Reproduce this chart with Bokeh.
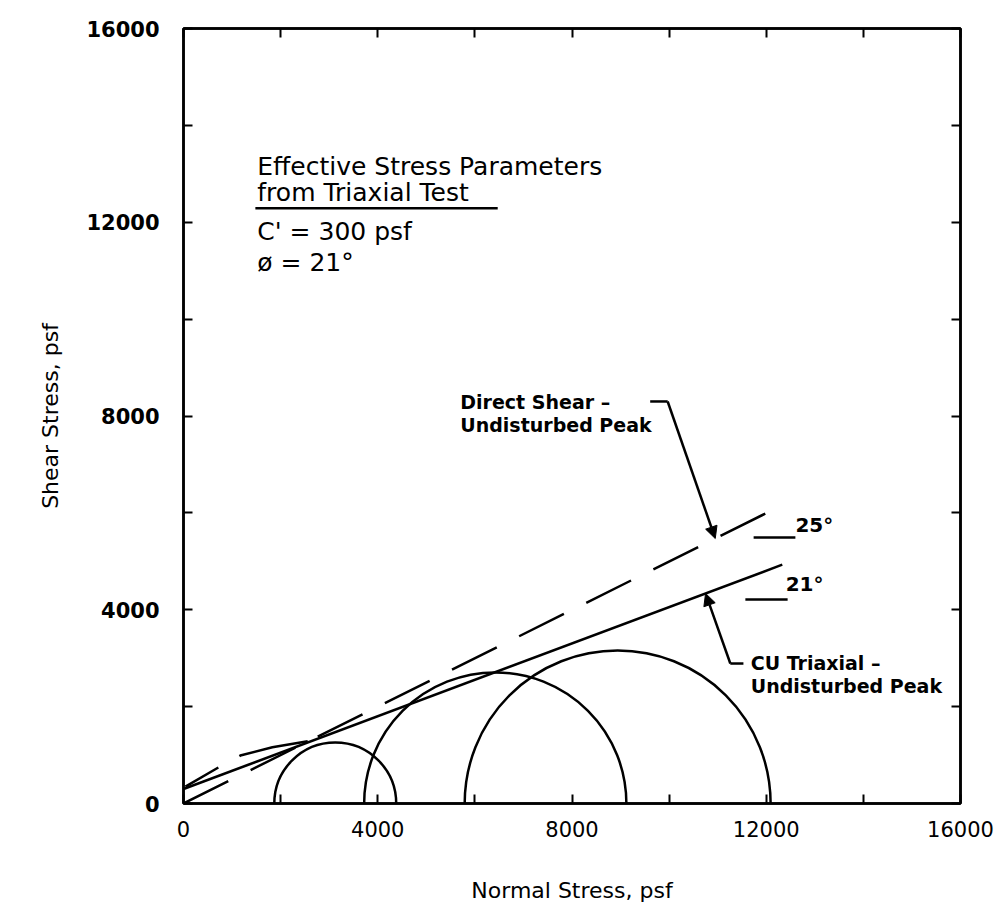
import numpy as np
from bokeh.plotting import figure
from bokeh.models import Range1d, FixedTicker, LinearAxis, Arrow, NormalHead
from bokeh.core.properties import value
from bokeh.embed import file_html
from bokeh.resources import INLINE

# Mohr circles: minor / major principal stresses at failure (psf)
sigma3 = [1870, 3720, 5790]
sigma1 = [4380, 9120, 12090]

# CU triaxial envelope (solid) and direct shear envelope (dashed)
cu_env_x = [0, 12330]
cu_env_y = [300, 4930]
ds_env_x = [0, 11990]
ds_env_y = [0, 5990]
# curved low-stress portion of the direct shear envelope
ds_curve_x = [40, 730, 1170, 1830, 2580]
ds_curve_y = [350, 750, 990, 1160, 1290]

major_ticks = [0, 4000, 8000, 12000, 16000]
minor_ticks = [2000, 6000, 10000, 14000]

FONT = "DejaVu Sans"
LW = 2.5

p = figure(frame_width=777, frame_height=775,
           x_range=Range1d(0, 16000), y_range=Range1d(0, 16000),
           min_border_left=183, min_border_right=41,
           min_border_top=28, min_border_bottom=120,
           output_backend="svg", toolbar_location=None,
           background_fill_color="white", border_fill_color="white")
p.xgrid.visible = False
p.ygrid.visible = False
p.outline_line_color = "black"
p.outline_line_width = LW


def style_axis(ax, show_labels=True):
    ax.ticker = FixedTicker(ticks=major_ticks, minor_ticks=minor_ticks)
    ax.axis_line_color = "black"
    ax.axis_line_width = LW
    ax.major_tick_in = 9
    ax.major_tick_out = 0
    ax.minor_tick_in = 9
    ax.minor_tick_out = 0
    ax.major_tick_line_width = 2
    ax.minor_tick_line_width = 2
    ax.major_tick_line_color = "black"
    ax.minor_tick_line_color = "black"
    ax.major_label_text_font = FONT
    ax.major_label_text_color = "black"
    ax.axis_label_text_font = FONT
    ax.axis_label_text_font_style = "normal"
    ax.axis_label_text_color = "black"
    if not show_labels:
        ax.major_label_text_alpha = 0
        ax.major_label_text_font_size = "1px"
        ax.major_label_standoff = 0


style_axis(p.xaxis[0])
style_axis(p.yaxis[0])
p.xaxis.axis_label = "Normal Stress, psf"
p.yaxis.axis_label = "Shear Stress, psf"
p.xaxis.major_label_text_font_size = "21px"
p.yaxis.major_label_text_font_size = "21px"
p.yaxis.major_label_text_font_style = "bold"
p.xaxis.major_label_standoff = 17
p.yaxis.major_label_standoff = 24
p.xaxis.axis_label_text_font_size = "22px"
p.yaxis.axis_label_text_font_size = "22px"
p.xaxis.axis_label_standoff = 38
p.yaxis.axis_label_standoff = 20

top_axis = LinearAxis()
right_axis = LinearAxis()
style_axis(top_axis, show_labels=False)
style_axis(right_axis, show_labels=False)
p.add_layout(top_axis, "above")
p.add_layout(right_axis, "right")

# Mohr circles (upper halves)
centers = [(a + b) / 2 for a, b in zip(sigma3, sigma1)]
radii = [(b - a) / 2 for a, b in zip(sigma3, sigma1)]
p.arc(x=centers, y=[0] * 3, radius=radii, start_angle=0, end_angle=np.pi,
      line_color="black", line_width=LW)

# failure envelopes
p.line(cu_env_x, cu_env_y, line_color="black", line_width=LW)
p.line(ds_env_x, ds_env_y, line_color="black", line_width=LW, line_dash="50 25")
p.line(ds_curve_x, ds_curve_y, line_color="black", line_width=LW, line_dash="38 24 70 20")

# parameter block
block_text = ["Effective Stress Parameters", "from Triaxial Test",
              "C' = 300 psf", "ø = 21°"]
block_x = [1520, 1520, 1520, 1520]
block_y = [13150, 12610, 11810, 11170]
p.text(x=block_x, y=block_y, text=block_text, text_font=value(FONT),
       text_font_size="25px", text_baseline="middle", text_align="left",
       text_color="black")
p.segment(x0=[1480], y0=[12290], x1=[6470], y1=[12290], line_color="black", line_width=LW)

# direct shear callout
ds_lab_x = [5700, 5700]
ds_lab_y = [8290, 7810]
p.text(x=ds_lab_x, y=ds_lab_y, text=["Direct Shear \u2013", "Undisturbed Peak"],
       text_font=value(FONT), text_font_size="19px", text_font_style="bold",
       text_baseline="middle", text_align="left", text_color="black")
ds_tip_x = 10950
ds_tip_y = float(np.interp(ds_tip_x, ds_env_x, ds_env_y))
p.line([9610, 9970], [8300, 8300], line_color="black", line_width=LW)
p.add_layout(Arrow(end=NormalHead(size=12, fill_color="black", line_color="black"),
                   x_start=9970, y_start=8300, x_end=ds_tip_x, y_end=ds_tip_y,
                   line_color="black", line_width=LW))

# CU triaxial callout
cu_lab_x = [11680, 11680]
cu_lab_y = [2910, 2420]
p.text(x=cu_lab_x, y=cu_lab_y, text=["CU Triaxial \u2013", "Undisturbed Peak"],
       text_font=value(FONT), text_font_size="19px", text_font_style="bold",
       text_baseline="middle", text_align="left", text_color="black")
cu_tip_x = 10750
cu_tip_y = float(np.interp(cu_tip_x, cu_env_x, cu_env_y))
p.line([11530, 11260], [2890, 2890], line_color="black", line_width=LW)
p.add_layout(Arrow(end=NormalHead(size=12, fill_color="black", line_color="black"),
                   x_start=11260, y_start=2890, x_end=cu_tip_x, y_end=cu_tip_y,
                   line_color="black", line_width=LW))

# slope angle labels
angle_text = ["25°", "21°"]
angle_x = [12600, 12400]
angle_y = [5740, 4540]
p.text(x=angle_x, y=angle_y, text=angle_text, text_font=value(FONT),
       text_font_size="20px", text_font_style="bold",
       text_baseline="middle", text_align="left", text_color="black")
p.segment(x0=[11740, 11570], y0=[5490, 4210], x1=[12600, 12440], y1=[5490, 4210],
          line_color="black", line_width=LW)

open("out.html", "w").write(file_html(p, INLINE))
